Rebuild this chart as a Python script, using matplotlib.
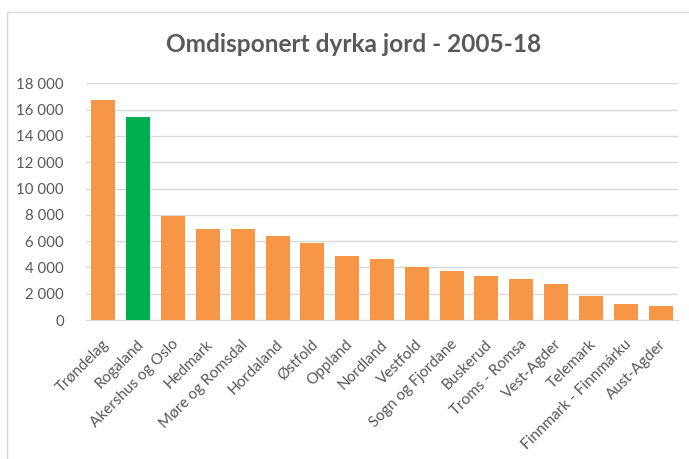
import matplotlib.pyplot as plt
import matplotlib.transforms as mtransforms
from matplotlib.patches import Rectangle
from matplotlib.ticker import FuncFormatter, MultipleLocator

# data
fylker = ['Trøndelag', 'Rogaland', 'Akershus og Oslo', 'Hedmark', 'Møre og Romsdal',
          'Hordaland', 'Østfold', 'Oppland', 'Nordland', 'Vestfold', 'Sogn og Fjordane',
          'Buskerud', 'Troms - Romsa', 'Vest-Agder', 'Telemark',
          'Finnmark - Finnmárku', 'Aust-Agder']
dekar = [16700, 15400, 7900, 6900, 6900, 6400, 5850, 4870, 4620, 4060, 3700,
         3350, 3100, 2750, 1830, 1220, 1070]
highlight = 'Rogaland'

orange = '#F79646'
green = '#00B050'
grey = '#595959'

plt.rcParams['font.family'] = ['Lato', 'DejaVu Sans']

fig = plt.figure(figsize=(6.89, 4.59), dpi=100)
ax = fig.add_axes([86 / 689, 1 - 320 / 459, (678 - 86) / 689, (320 - 83.3) / 459])

colors = [green if f == highlight else orange for f in fylker]
ax.bar(range(len(fylker)), dekar, width=0.69, color=colors, zorder=3)

ax.set_xlim(-0.5, len(fylker) - 0.5)
ax.set_ylim(0, 18000)
ax.yaxis.set_major_locator(MultipleLocator(2000))
ax.yaxis.set_major_formatter(FuncFormatter(lambda v, p: f'{int(v):,}'.replace(',', ' ')))
ax.grid(axis='y', color='#d9d9d9', linewidth=1, zorder=0)

ax.set_xticks(range(len(fylker)))
ax.set_xticklabels(fylker, rotation=45, ha='right', va='center', rotation_mode='anchor')
ax.tick_params(axis='x', length=0, pad=16, labelsize=11, labelcolor=grey)
ax.tick_params(axis='y', length=0, pad=16, labelsize=10.8, labelcolor=grey)
shift = mtransforms.ScaledTranslation(3 / 100, 0, fig.dpi_scale_trans)
for lbl in ax.get_xticklabels():
    lbl.set_transform(lbl.get_transform() + shift)

for s in ['top', 'right', 'left']:
    ax.spines[s].set_visible(False)
ax.spines['bottom'].set_color('#d9d9d9')

fig.text(354 / 689, 1 - 45 / 459, 'Omdisponert dyrka jord - 2005-18',
         ha='center', va='center', fontsize=17.6, fontweight='bold', color=grey)

# light chart border (Excel chart area)
fig.patches.append(Rectangle((7 / 689, -0.1), 1.2, 1 - 12 / 459 + 0.1,
                             transform=fig.transFigure, fill=False,
                             edgecolor='#d9d9d9', linewidth=1))

fig.savefig('out.png', dpi=100)
